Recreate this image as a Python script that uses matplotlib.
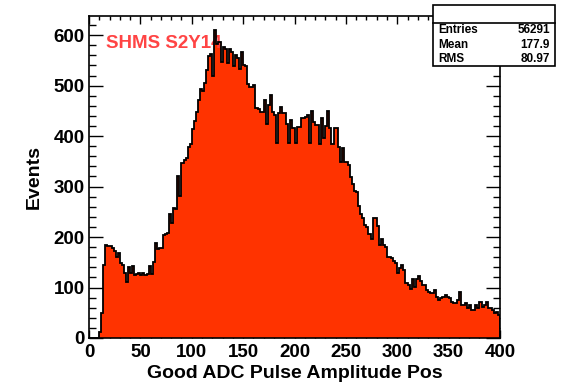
import numpy as np
import matplotlib.pyplot as plt
from matplotlib.patches import Rectangle
from matplotlib.lines import Line2D
from matplotlib.ticker import MultipleLocator

plt.rcParams['font.family'] = ['Liberation Sans', 'DejaVu Sans']
plt.rcParams['font.weight'] = 'bold'

# counts per 2-unit bin, 0..400
counts = [
    0, 0, 0, 0, 0,
    12, 49, 145, 184, 182,
    182, 178, 172, 160, 168,
    148, 145, 128, 110, 140,
    128, 142, 124, 126, 128,
    125, 128, 124, 126, 142,
    126, 150, 188, 176, 178,
    178, 204, 206, 208, 245,
    228, 258, 256, 320, 282,
    346, 352, 356, 379, 385,
    415, 430, 448, 472, 494,
    489, 505, 531, 558, 563,
    520, 611, 582, 586, 546,
    576, 572, 545, 572, 566,
    538, 560, 555, 532, 566,
    541, 538, 503, 498, 498,
    501, 455, 453, 448, 448,
    471, 425, 461, 481, 448,
    441, 386, 445, 457, 445,
    445, 425, 386, 432, 416,
    386, 418, 418, 435, 435,
    438, 441, 386, 449, 428,
    422, 422, 385, 435, 396,
    420, 449, 416, 385, 416,
    416, 378, 349, 376, 349,
    349, 343, 319, 305, 292,
    290, 262, 245, 238, 224,
    220, 207, 197, 238, 238,
    222, 184, 197, 184, 181,
    161, 161, 158, 152, 148,
    128, 138, 144, 134, 108,
    105, 98, 116, 102, 116,
    122, 112, 105, 105, 95,
    92, 89, 89, 95, 81,
    76, 80, 82, 85, 82,
    79, 72, 69, 69, 75,
    92, 65, 65, 69, 59,
    65, 55, 55, 65, 59,
    72, 61, 65, 72, 59,
    59, 55, 49, 52, 45,
]
edges = np.linspace(0, 400, 201)

xticks = [0, 50, 100, 150, 200, 250, 300, 350, 400]
yticks = [0, 100, 200, 300, 400, 500, 600]
hist_title = "SHMS S2Y14"
stat_names = ["Entries", "Mean", "RMS"]
stat_values = ["56291", "177.9", "80.97"]

W, H = 568, 386
fig = plt.figure(figsize=(W / 100, H / 100), dpi=100)
ax = fig.add_axes([89 / W, 48 / H, 411 / W, 322 / H])

ax.stairs(counts, edges, fill=True, color='#ff3300', zorder=2)
ax.stairs(counts, edges, baseline=0, color='black', lw=1.3, zorder=3)

ax.set_xlim(0, 400)
ax.set_ylim(0, 638)
ax.set_xticks(xticks)
ax.set_yticks(yticks)
ax.xaxis.set_minor_locator(MultipleLocator(10))
ax.yaxis.set_minor_locator(MultipleLocator(20))
ax.tick_params(which='both', direction='in', top=True, right=True, width=1.0)
ax.tick_params(axis='x', which='major', length=5.8, pad=4, labelsize=13.5)
ax.tick_params(axis='x', which='minor', length=2.9)
ax.tick_params(axis='y', which='major', length=10, pad=3, labelsize=13.5)
ax.tick_params(axis='y', which='minor', length=5)
for s in ax.spines.values():
    s.set_linewidth(1.2)

ax.set_xlabel('Good ADC Pulse Amplitude Pos', fontsize=14, fontweight='bold')
ax.xaxis.set_label_coords(0.5, -0.084)
ax.set_ylabel('Events', fontsize=14, fontweight='bold')
ax.yaxis.set_label_coords(-0.112, 0.5)

ax.text(0.041, 0.916, hist_title, transform=ax.transAxes, color='#ff4444',
        fontsize=13.5, va='center', ha='left', zorder=2.5)

# stats box
bx0, bx1, by0, by1 = 433, 555, 5, 66
fig.add_artist(Rectangle((bx0 / W, 1 - by1 / H), (bx1 - bx0) / W, (by1 - by0) / H,
                         transform=fig.transFigure, facecolor='white',
                         edgecolor='black', lw=1.2, zorder=10))
fig.add_artist(Line2D([bx0 / W, bx1 / W], [1 - 23 / H, 1 - 23 / H],
                      transform=fig.transFigure, color='black', lw=1.2, zorder=11))
for i, (n, v) in enumerate(zip(stat_names, stat_values)):
    yy = 1 - [30, 44.5, 59.5][i] / H
    fig.text(438 / W, yy, n, fontsize=8.5, va='center', ha='left', zorder=12)
    fig.text(550 / W, yy, v, fontsize=8.5, va='center', ha='right', zorder=12)

fig.savefig('out.png', dpi=100)
